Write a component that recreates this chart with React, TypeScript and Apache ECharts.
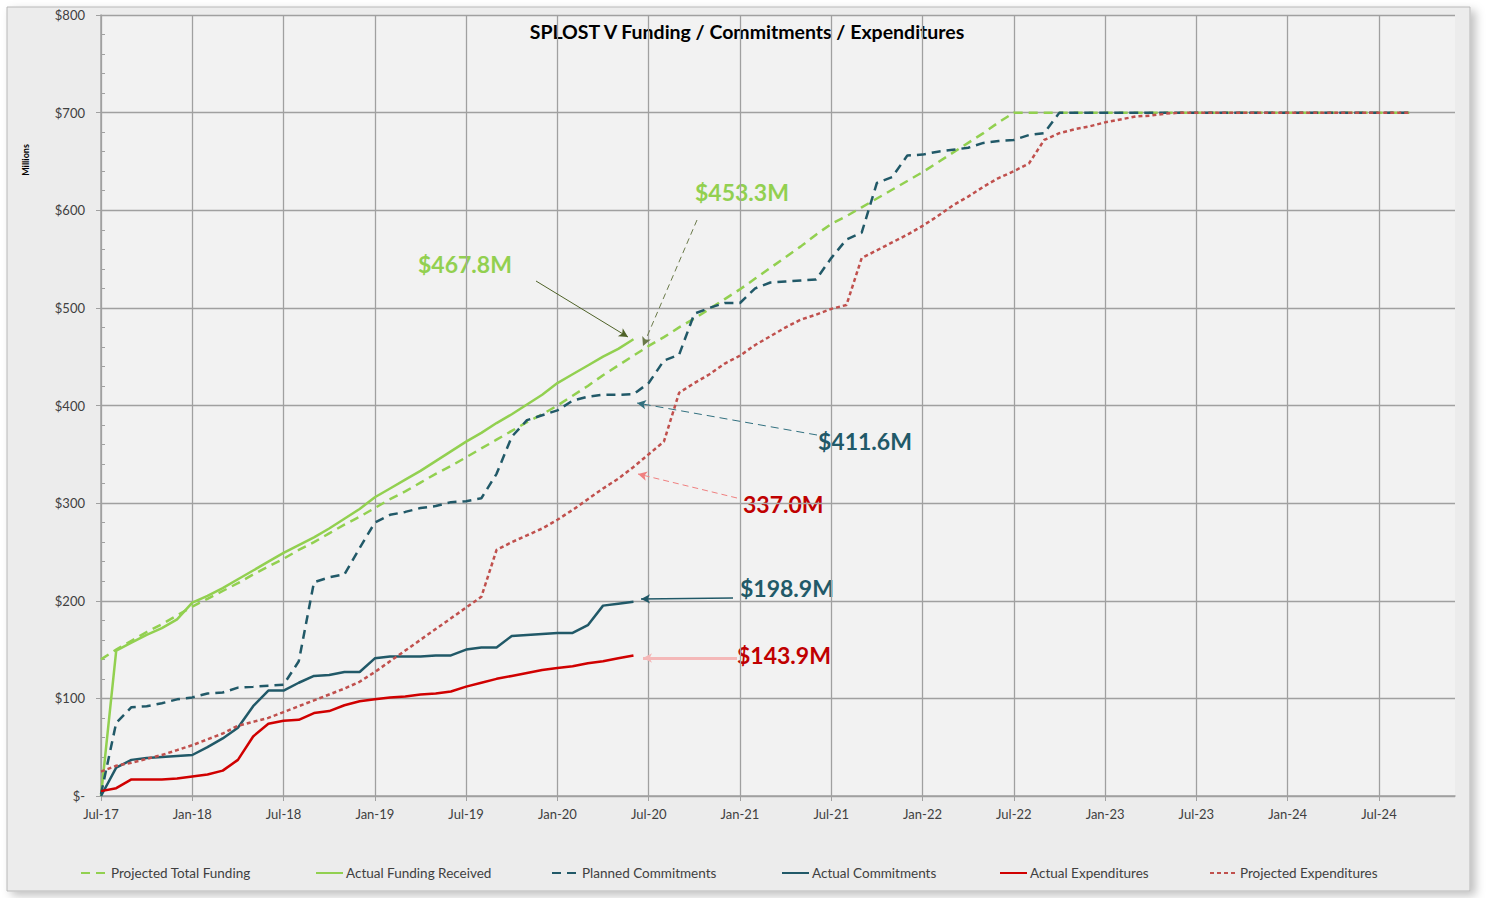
import React, { useEffect, useRef } from "react";
import * as echarts from "echarts";

// ---------- categories ----------
const MONTH_NAMES = ["Jan", "Feb", "Mar", "Apr", "May", "Jun", "Jul", "Aug", "Sep", "Oct", "Nov", "Dec"];
const START_MONTH = 6; // Jul
const START_YEAR = 17;
const MONTH_COUNT = 90; // Jul-17 .. Dec-24
const months: string[] = [];
for (let i = 0; i < MONTH_COUNT; i++) {
  const m = (START_MONTH + i) % 12;
  const y = START_YEAR + Math.floor((START_MONTH + i) / 12);
  months.push(`${MONTH_NAMES[m]}-${y}`);
}

// ---------- series values ($ millions), monthly from Jul-17 ----------
const projectedTotalFunding = [
  140, 150, 159, 168, 176, 185, 194, 202, 210, 218, 227, 235,
  243, 252, 260, 269, 278, 286, 295, 304, 312, 321, 330, 338,
  347, 356, 365, 374, 383, 391, 400, 410, 420, 431, 441, 451,
  461, 470, 480, 489, 499, 509, 519, 530, 541, 552, 563, 575,
  586, 594, 603, 612, 621, 630, 639, 649, 659, 669, 679, 690,
  700, 700, 700, 700, 700, 700, 700, 700, 700, 700, 700, 700,
  700, 700, 700, 700, 700, 700, 700, 700, 700, 700, 700, 700,
  700, 700, 700,
];

const actualFundingReceived = [
  0, 149, 157, 165, 172, 181, 198, 205, 213, 222, 231, 240,
  249, 257, 265, 274, 284, 294, 306, 315, 324, 333, 343, 353,
  363, 372, 382, 391, 401, 411, 423, 432, 441, 450, 458, 467.8,
];

const plannedCommitments = [
  2, 75, 91, 92, 95, 99, 101, 105, 106, 111, 112, 113,
  114, 138, 219, 224, 227, 254, 280, 288, 291, 295, 297, 301,
  302, 305, 330, 368, 385, 390, 395, 405, 409, 411, 411, 411.6,
  423, 446, 452, 494, 500, 505, 505, 520, 526, 527, 528, 529,
  551, 570, 577, 628, 634, 656, 657, 660, 662, 664, 669, 671,
  672, 677, 679, 700, 700, 700, 700, 700, 700, 700, 700, 700,
  700, 700, 700, 700, 700, 700, 700, 700, 700, 700, 700, 700,
  700, 700, 700,
];

const actualCommitments = [
  0, 29, 37, 39, 40, 41, 42, 50, 59, 70, 92, 108,
  108, 116, 123, 124, 127, 127, 141, 143, 143, 143, 144, 144,
  150, 152, 152, 164, 165, 166, 167, 167, 175, 195, 197, 198.9,
];

const actualExpenditures = [
  5, 8, 17, 17, 17, 18, 20, 22, 26, 37, 61, 74,
  77, 78, 85, 87, 93, 97, 99, 101, 102, 104, 105, 107,
  112, 116, 120, 123, 126, 129, 131, 133, 136, 138, 141, 143.9,
];

const projectedExpenditures = [
  25, 31, 34, 38, 42, 47, 52, 58, 64, 72, 76, 80,
  86, 92, 98, 104, 110, 117, 127, 138, 149, 160, 171, 182,
  193, 204, 252, 260, 267, 274, 283, 293, 304, 315, 325, 337,
  350, 363, 413, 423, 432, 443, 451, 462, 471, 480, 488, 493,
  499, 503, 551, 559, 567, 575, 584, 594, 605, 614, 624, 633,
  640, 648, 672, 679, 683, 686, 690, 693, 696, 697, 699, 700,
  700, 700, 700, 700, 700, 700, 700, 700, 700, 700, 700, 700,
  700, 700, 700,
];

// ---------- annotation labels ----------
const annotationTexts = ["$467.8M", "$453.3M", "$411.6M", "337.0M", "$198.9M", "$143.9M"];

const GREEN = "#92D050";
const TEAL = "#215968";
const RED = "#D00000";
const RED_PROJ = "#C0504D";
const FONT = "Lato, 'Open Sans', sans-serif";

export default function App() {
  const ref = useRef<HTMLDivElement>(null);

  useEffect(() => {
    if (!ref.current) return;
    const chart = echarts.init(ref.current, null, { renderer: "svg" });

    const legendDefs = [
      { name: "Projected Total Funding", left: 80 },
      { name: "Actual Funding Received", left: 315 },
      { name: "Planned Commitments", left: 551 },
      { name: "Actual Commitments", left: 781 },
      { name: "Actual Expenditures", left: 999 },
      { name: "Projected Expenditures", left: 1209 },
    ];

    const arrow = (
      from: [number, number],
      to: [number, number],
      color: string,
      width: number,
      type: any,
      headColor?: string
    ) => [
      { x: from[0], y: from[1], symbol: "none" },
      {
        x: to[0],
        y: to[1],
        symbol: "arrow",
        symbolSize: [7, 9],
        itemStyle: { color: headColor || color },
        lineStyle: { color, width, type },
      },
    ];

    const annoFont = `bold 23px ${FONT}`;

    const option: any = {
      animation: false,
      backgroundColor: "#FFFFFF",
      textStyle: { fontFamily: FONT },
      graphic: [
        {
          type: "rect",
          z: -10,
          silent: true,
          shape: { x: 7, y: 7, width: 1463, height: 884 },
          style: {
            fill: "#ECECEC",
            stroke: "#B8B8B8",
            lineWidth: 1,
            shadowBlur: 10,
            shadowOffsetX: 5,
            shadowOffsetY: 4,
            shadowColor: "rgba(0,0,0,0.25)",
          },
        },
        {
          type: "text",
          x: 747,
          y: 31,
          style: {
            text: "SPLOST V Funding / Commitments / Expenditures",
            fill: "#000000",
            font: `bold 19.5px ${FONT}`,
            align: "center",
            verticalAlign: "middle",
          },
        },
        {
          type: "text",
          x: 25,
          y: 160,
          rotation: Math.PI / 2,
          style: {
            text: "Millions",
            fill: "#000000",
            font: `bold 9px ${FONT}`,
            align: "center",
            verticalAlign: "middle",
          },
        },
        { type: "text", x: 418, y: 264, style: { text: annotationTexts[0], fill: GREEN, font: annoFont, verticalAlign: "middle" } },
        { type: "text", x: 695, y: 192, style: { text: annotationTexts[1], fill: GREEN, font: annoFont, verticalAlign: "middle" } },
        { type: "text", x: 818, y: 441, style: { text: annotationTexts[2], fill: TEAL, font: annoFont, verticalAlign: "middle" } },
        { type: "text", x: 743, y: 504, style: { text: annotationTexts[3], fill: "#C00000", font: annoFont, verticalAlign: "middle" } },
        { type: "text", x: 740, y: 588, style: { text: annotationTexts[4], fill: TEAL, font: annoFont, verticalAlign: "middle" } },
        { type: "text", x: 737, y: 655, style: { text: annotationTexts[5], fill: "#C00000", font: annoFont, verticalAlign: "middle" } },
      ],
      legend: legendDefs.map((d) => ({
        data: [d.name],
        left: d.left,
        top: 866,
        itemWidth: 27,
        itemHeight: 14,
        itemGap: 0,
        padding: 0,
        selectedMode: false,
        itemStyle: { color: "transparent", borderColor: "transparent", borderWidth: 0, opacity: 0 },
        textStyle: { fontSize: 13.5, color: "#404040", fontFamily: FONT, padding: [0, 0, 0, -2] },
      })),
      grid: {
        left: 101,
        right: 36,
        top: 15,
        bottom: 102,
        show: true,
        backgroundColor: "#F2F2F2",
        borderWidth: 0,
      },
      xAxis: {
        type: "category",
        data: months,
        boundaryGap: false,
        axisLine: { lineStyle: { color: "#A0A0A0", width: 1.5 } },
        axisTick: { show: true, interval: 5, length: 5, lineStyle: { color: "#A0A0A0" } },
        axisLabel: { interval: 5, color: "#404040", fontSize: 13, margin: 11, fontFamily: FONT },
        splitLine: { show: true, interval: 5, lineStyle: { color: "#A0A0A0", width: 1.3 } },
      },
      yAxis: [
        {
          type: "value",
          min: 0,
          max: 800,
          interval: 100,
          axisLine: { show: true, lineStyle: { color: "#A0A0A0", width: 1.5 } },
          axisTick: { show: true, length: 5, lineStyle: { color: "#A0A0A0" } },
          axisLabel: {
            color: "#404040",
            fontSize: 13,
            margin: 16,
            fontFamily: FONT,
            formatter: (v: number) => (v === 0 ? "$-" : "$" + v),
          },
          splitLine: { show: true, lineStyle: { color: "#A0A0A0", width: 1.3 } },
        },
        {
          type: "value",
          position: "left",
          min: 0,
          max: 800,
          interval: 20,
          axisLine: { show: false },
          axisTick: { show: true, inside: true, length: 4, lineStyle: { color: "#A0A0A0" } },
          axisLabel: { show: false },
          splitLine: { show: false },
        },
      ],
      series: [
        {
          name: "Projected Total Funding",
          type: "line",
          data: projectedTotalFunding,
          symbol: "none",
          itemStyle: { color: GREEN },
          lineStyle: { color: GREEN, width: 2.5, type: [9, 6] },
        },
        {
          name: "Actual Funding Received",
          type: "line",
          data: actualFundingReceived,
          symbol: "none",
          itemStyle: { color: GREEN },
          lineStyle: { color: GREEN, width: 2.5 },
        },
        {
          name: "Planned Commitments",
          type: "line",
          data: plannedCommitments,
          symbol: "none",
          itemStyle: { color: TEAL },
          lineStyle: { color: TEAL, width: 2.5, type: [9, 6] },
        },
        {
          name: "Actual Commitments",
          type: "line",
          data: actualCommitments,
          symbol: "none",
          itemStyle: { color: TEAL },
          lineStyle: { color: TEAL, width: 2.5 },
        },
        {
          name: "Actual Expenditures",
          type: "line",
          data: actualExpenditures,
          symbol: "none",
          itemStyle: { color: RED },
          lineStyle: { color: RED, width: 2.5 },
          markLine: {
            silent: true,
            animation: false,
            label: { show: false },
            emphasis: { disabled: true },
            data: [
              arrow([536, 281], [628, 337], "#4F6228", 1, "solid"),
              arrow([697, 220], [643, 346], "#6B7A4A", 1, [6, 4]),
              arrow([817, 435], [637, 403], "#31707F", 1, [8, 5]),
              arrow([737, 498], [638, 474], "#F08080", 1, [6, 4], "#E03030"),
              arrow([733, 598], [641, 599], TEAL, 1.5, "solid"),
              arrow([737, 658], [643, 658], "#F4B8B8", 3, "solid", "#E05050"),
            ],
          },
        },
        {
          name: "Projected Expenditures",
          type: "line",
          data: projectedExpenditures,
          symbol: "none",
          itemStyle: { color: RED_PROJ },
          lineStyle: { color: RED_PROJ, width: 2.5, type: [4, 3] },
        },
      ],
    };

    chart.setOption(option);
    return () => chart.dispose();
  }, []);

  return (
    <div
      ref={ref}
      style={{ position: "absolute", left: 0, top: 0, width: 1491, height: 898 }}
    />
  );
}
